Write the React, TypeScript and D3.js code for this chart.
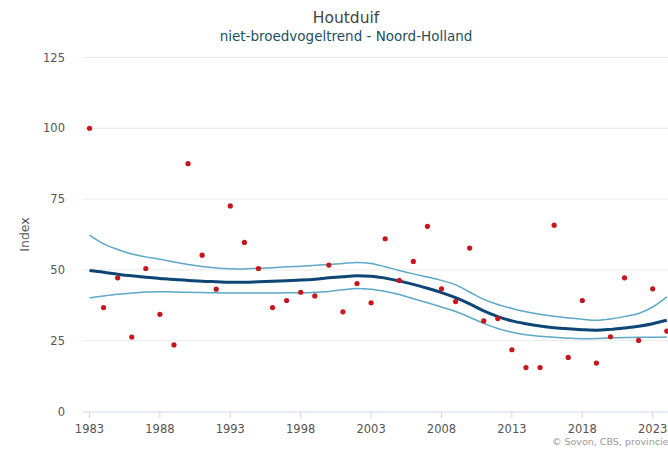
import React, { useRef, useEffect } from 'react'
import * as d3 from 'd3'

const years = d3.range(1983, 2025)

const indexValues = [
  100, 36.7, 47.2, 26.3, 50.5, 34.3, 23.5, 87.5, 55.2, 43.2,
  72.6, 59.7, 50.5, 36.7, 39.2, 42.1, 40.8, 51.7, 35.2, 45.2,
  38.4, 61.0, 46.3, 53.0, 65.4, 43.3, 38.8, 57.7, 32.0, 32.8,
  21.8, 15.5, 15.5, 65.8, 19.1, 39.2, 17.1, 26.4, 47.2, 25.1,
  43.3, 28.4,
]

const trend = [
  49.8, 49.2, 48.5, 47.9, 47.4, 47.0, 46.6, 46.3, 46.0, 45.8,
  45.6, 45.6, 45.8, 46.0, 46.2, 46.4, 46.7, 47.2, 47.6, 47.9,
  47.8, 47.1, 46.1, 44.9, 43.5, 42.0, 40.2, 38.0, 35.5, 33.5,
  32.0, 31.0, 30.2, 29.6, 29.2, 28.9, 28.7, 29.0, 29.5, 30.1,
  31.0, 32.2,
]

const upper = [
  62.3, 59.2, 57.2, 55.6, 54.6, 53.8, 52.8, 51.9, 51.2, 50.7,
  50.4, 50.3, 50.6, 50.8, 51.1, 51.3, 51.6, 51.9, 52.3, 52.6,
  52.3, 51.1, 49.8, 48.6, 47.5, 46.3, 44.7, 42.2, 39.6, 37.8,
  36.4, 35.2, 34.3, 33.6, 33.0, 32.6, 32.2, 32.7, 33.5, 34.6,
  36.9, 40.5,
]

const lower = [
  40.1, 40.8, 41.4, 41.8, 42.2, 42.3, 42.2, 42.1, 42.0, 41.9,
  41.8, 41.8, 41.8, 41.8, 41.9, 41.9, 42.1, 42.4, 43.0, 43.4,
  43.2, 42.4, 41.3, 39.8, 38.4, 36.9, 35.3, 33.3, 31.1, 29.3,
  28.0, 27.1, 26.6, 26.2, 25.9, 25.7, 25.8, 26.0, 26.1, 26.2,
  26.2, 26.3,
]

const yTicks = [0, 25, 50, 75, 100, 125]
const xTicks = [1983, 1988, 1993, 1998, 2003, 2008, 2013, 2018, 2023]

const font = '"DejaVu Sans", Verdana, sans-serif'

export default function App() {
  const svgRef = useRef<SVGSVGElement>(null)
  const width = 668
  const height = 450

  useEffect(() => {
    if (!svgRef.current) return
    const svg = d3.select(svgRef.current)
    svg.selectAll('*').remove()

    const left = 83
    const x = d3.scaleLinear().domain([1983, 2024]).range([89.5, 89.5 + 41 * 14.08])
    const y = d3.scaleLinear().domain([0, 125]).range([411.5, 57.5])

    svg.append('rect').attr('width', width).attr('height', height).attr('fill', '#fff')

    // title
    svg.append('text').attr('x', 346).attr('y', 23)
      .attr('text-anchor', 'middle').attr('font-family', font)
      .attr('font-size', 15.5).attr('fill', '#444').text('Houtduif')
    svg.append('text').attr('x', 346).attr('y', 41)
      .attr('text-anchor', 'middle').attr('font-family', font)
      .attr('font-size', 13.5).attr('fill', '#1d4f5e').text('niet-broedvogeltrend - Noord-Holland')

    // grid
    svg.append('g').selectAll('line')
      .data(yTicks.filter(d => d > 0))
      .enter().append('line')
      .attr('x1', left).attr('x2', width)
      .attr('y1', d => y(d)).attr('y2', d => y(d))
      .attr('stroke', '#e9e9e9').attr('stroke-width', 1)

    svg.append('g').selectAll('text')
      .data(yTicks)
      .enter().append('text')
      .attr('x', 65).attr('y', d => y(d) + 4)
      .attr('text-anchor', 'end').attr('font-family', font)
      .attr('font-size', 11.5).attr('fill', '#555')
      .text(d => d)

    svg.append('text')
      .attr('transform', `translate(29,${y(62.5)}) rotate(-90)`)
      .attr('text-anchor', 'middle').attr('font-family', font)
      .attr('font-size', 12.5).attr('fill', '#555').text('Index')

    // x axis
    svg.append('line').attr('x1', left).attr('x2', width)
      .attr('y1', 412).attr('y2', 412).attr('stroke', '#ccd6eb')
    const xt = svg.append('g')
    xt.selectAll('line').data(xTicks).enter().append('line')
      .attr('x1', d => x(d)).attr('x2', d => x(d))
      .attr('y1', 412).attr('y2', 418).attr('stroke', '#ccd6eb')
    xt.selectAll('text').data(xTicks).enter().append('text')
      .attr('x', d => x(d)).attr('y', 433)
      .attr('text-anchor', 'middle').attr('font-family', font)
      .attr('font-size', 11.5).attr('fill', '#555')
      .text(d => d)

    const line = (vals: number[]) =>
      d3.line<number>().x((_, i) => x(years[i])).y(d => y(d)).curve(d3.curveMonotoneX)(vals)

    svg.append('path').attr('d', line(upper)).attr('fill', 'none')
      .attr('stroke', '#5ca8c8').attr('stroke-width', 1.5)
    svg.append('path').attr('d', line(lower)).attr('fill', 'none')
      .attr('stroke', '#5ca8c8').attr('stroke-width', 1.5)
    svg.append('path').attr('d', line(trend)).attr('fill', 'none')
      .attr('stroke', '#0d4674').attr('stroke-width', 3)

    svg.append('g').selectAll('circle')
      .data(indexValues)
      .enter().append('circle')
      .attr('cx', (_, i) => x(years[i]))
      .attr('cy', d => y(d))
      .attr('r', 2.6)
      .attr('fill', '#c8161d')

    svg.append('text').attr('x', 552).attr('y', 445)
      .attr('font-family', font).attr('font-size', 9.5).attr('fill', '#999')
      .text('© Sovon, CBS, provincies')
  }, [])

  return (
    <div style={{ position: 'fixed', left: 0, top: 0, width, height, overflow: 'hidden' }}>
      <svg ref={svgRef} width={width} height={height} style={{ display: 'block' }} />
    </div>
  )
}
